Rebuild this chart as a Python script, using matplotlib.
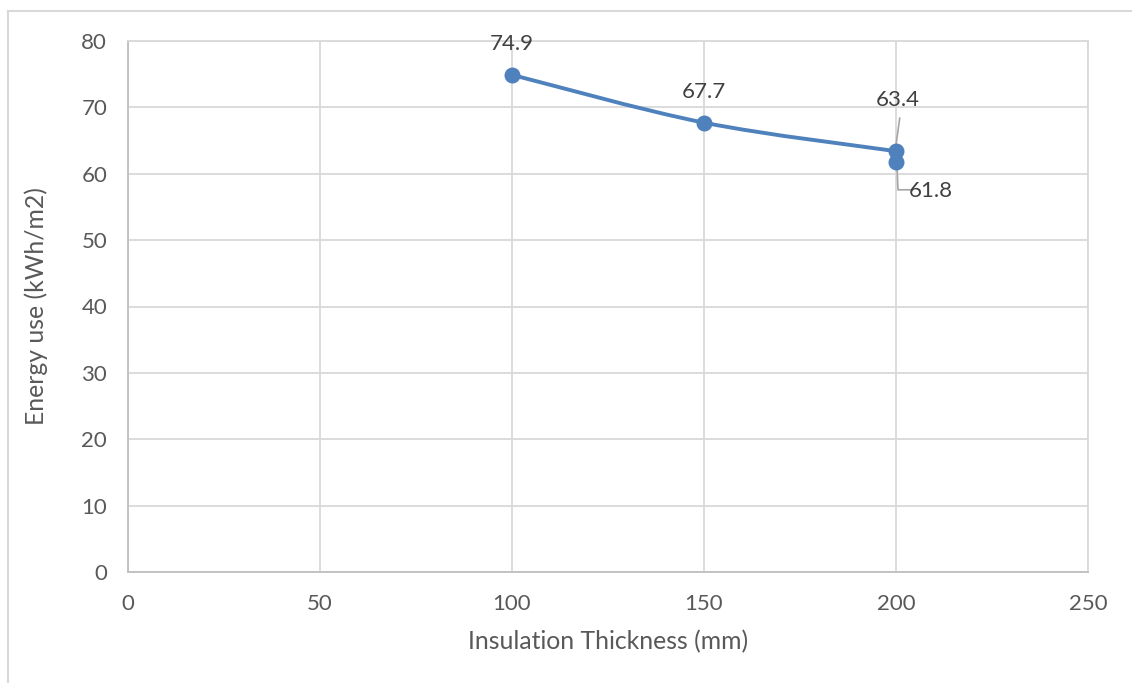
import matplotlib
matplotlib.use("Agg")
import matplotlib.pyplot as plt
import matplotlib.transforms as mtransforms
from matplotlib.path import Path
from matplotlib.patches import PathPatch
from matplotlib.lines import Line2D

plt.rcParams['font.family'] = ['Lato', 'DejaVu Sans']

thickness = [100, 150, 200, 200]
energy = [74.9, 67.7, 63.4, 61.8]
labels = ["74.9", "67.7", "63.4", "61.8"]
xticks = [0, 50, 100, 150, 200, 250]
yticks = [0, 10, 20, 30, 40, 50, 60, 70, 80]

COLOR = '#4F81BD'
TXT = '#595959'
GRID = '#d9d9d9'

fig = plt.figure(figsize=(11.32, 6.83), dpi=100)
ax = fig.add_axes([128/1132, 1-572/683, (1088-128)/1132, (572-41)/683])

ax.set_xlim(0, 250)
ax.set_ylim(0, 80)
ax.set_xticks(xticks)
ax.set_yticks(yticks)
ax.grid(True, color=GRID, linewidth=1.3)
ax.set_axisbelow(True)
for s in ['top', 'right']:
    ax.spines[s].set_color(GRID)
    ax.spines[s].set_linewidth(1.3)
for s in ['left', 'bottom']:
    ax.spines[s].set_color('#bfbfbf')
    ax.spines[s].set_linewidth(1.3)
ax.tick_params(length=0, labelsize=16, labelcolor=TXT, pad=16)
ax.tick_params(axis='y', pad=15)
ax.set_xlabel("Insulation Thickness (mm)", fontsize=17.8, color=TXT, labelpad=11.5)
ax.set_ylabel("Energy use (kWh/m2)", fontsize=17.8, color=TXT, labelpad=24)

# smoothed line (Catmull-Rom style Bezier through the points);
# the final vertical step between the two 200 mm points is straight
pts = list(zip(thickness, energy))
verts = [pts[0]]
codes = [Path.MOVETO]
for i in range(len(pts) - 1):
    p0 = pts[i-1] if i > 0 else pts[i]
    p1 = pts[i]
    p2 = pts[i+1]
    p3 = pts[i+2] if i + 2 < len(pts) else pts[i+1]
    if p1[0] == p2[0]:
        verts += [p2]
        codes += [Path.LINETO]
        continue
    if p3[0] == p2[0]:
        p3 = p2
    c1 = (p1[0] + (p2[0]-p0[0])/6, p1[1] + (p2[1]-p0[1])/6)
    c2 = (p2[0] - (p3[0]-p1[0])/6, p2[1] - (p3[1]-p1[1])/6)
    verts += [c1, c2, p2]
    codes += [Path.CURVE4]*3
ax.add_patch(PathPatch(Path(verts, codes), facecolor='none', edgecolor=COLOR,
                       linewidth=2.8, zorder=3, capstyle='round', joinstyle='round'))

# leader lines (offsets in pixels relative to point)
def leader(x, y, offs):
    tr = mtransforms.ScaledTranslation(x, y, ax.transData)
    xs = [o[0] for o in offs]
    ys = [o[1] for o in offs]
    ax.add_line(Line2D(xs, ys, transform=mtransforms.IdentityTransform() + tr,
                       color='#a6a6a6', linewidth=1.2, zorder=2.5, clip_on=False))

leader(thickness[2], energy[2], [(3.7, 33), (0, 6)])
leader(thickness[3], energy[3], [(1, -4), (2, -28), (15, -28)])

ax.plot(thickness, energy, linestyle='none', marker='o', markersize=10.5,
        color=COLOR, zorder=4)

offsets = [(0, 31), (0, 31), (2, 51), (35, -29)]
for x, y, lab, off in zip(thickness, energy, labels, offsets):
    ax.annotate(lab, (x, y), xytext=off, textcoords='offset pixels',
                ha='center', va='center', fontsize=16, color='#404040', zorder=5)

# outer chart frame (left and top edges visible)
fig.add_artist(Line2D([8/1132, 8/1132], [0, 1-11/683], transform=fig.transFigure,
                      color=GRID, linewidth=1.5))
fig.add_artist(Line2D([8/1132, 1], [1-11/683, 1-11/683], transform=fig.transFigure,
                      color=GRID, linewidth=1.5))

fig.savefig("out.png", dpi=100)
